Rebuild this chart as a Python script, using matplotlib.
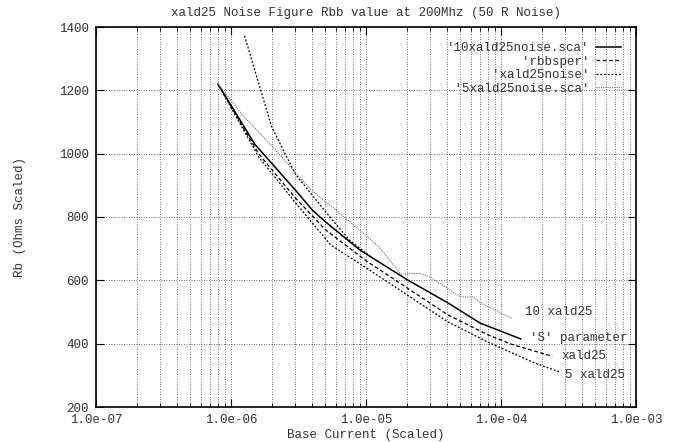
import matplotlib
matplotlib.use("Agg")
import matplotlib.pyplot as plt
from matplotlib.ticker import FixedLocator, LogLocator, NullFormatter

plt.rcParams['font.family'] = ['Liberation Mono', 'DejaVu Sans Mono']
plt.rcParams['font.size'] = 9
plt.rcParams['text.color'] = '0.2'
plt.rcParams['xtick.labelcolor'] = '0.2'
plt.rcParams['ytick.labelcolor'] = '0.2'
plt.rcParams['axes.labelcolor'] = '0.2'

# --- data ---
# '10xald25noise.sca'  (solid, labelled 'S' parameter)
sca10_x = [8e-7, 1.5e-6, 3e-6, 4e-6, 5e-6, 9e-6, 2e-5, 4e-5, 7e-5, 1.4e-4]
sca10_y = [1220, 1030, 885, 822, 785, 696, 603, 530, 465, 415]

# 'rbbsper'  (dashed, labelled xald25)
rbb_x = [8e-7, 1.6e-6, 3e-6, 5e-6, 1e-5, 2e-5, 4e-5, 8e-5, 1.2e-4, 2.4e-4]
rbb_y = [1220, 1000, 860, 760, 662, 577, 492, 428, 398, 360]

# 'xald25noise'  (dotted, labelled 5 xald25)
noise_x = [8e-7, 1.6e-6, 3e-6, 5.5e-6, 1e-5, 2e-5, 4e-5, 8e-5, 1.8e-4, 2.7e-4]
noise_y = [1220, 990, 845, 711, 640, 555, 470, 405, 338, 311]

# second dotted segment coming in from the top
steep_x = [1.26e-6, 2e-6, 3e-6, 5.5e-6, 7.5e-6, 1.1e-5]
steep_y = [1372, 1085, 935, 796, 728, 672]

# '5xald25noise.sca'  (fine grey dots, labelled 10 xald25)
sca5_x = [8e-7, 1.2e-6, 2e-6, 3e-6, 4e-6, 6e-6, 1.25e-5, 1.8e-5, 2.5e-5, 3e-5,
          5e-5, 6.2e-5, 7.2e-5, 1.2e-4]
sca5_y = [1220, 1125, 1025, 940, 882, 822, 706, 620, 622, 610,
          548, 548, 527, 480]

x_ticks = [1e-7, 1e-6, 1e-5, 1e-4, 1e-3]
x_tick_labels = ['1.0e-07', '1.0e-06', '1.0e-05', '1.0e-04', '1.0e-03']
y_ticks = [200, 400, 600, 800, 1000, 1200, 1400]

end_labels = ['10 xald25', "'S' parameter", 'xald25', '5 xald25']
end_label_x = [1.51e-4, 1.64e-4, 2.78e-4, 2.98e-4]
end_label_y = [500, 418, 361, 301]

fig = plt.figure(figsize=(6.76, 4.42), dpi=100)
ax = fig.add_axes([96 / 676, 35 / 442, 540 / 676, 380 / 442])

ax.plot(sca10_x, sca10_y, color='black', lw=1.1, label="'10xald25noise.sca'")
ax.plot(rbb_x, rbb_y, color='black', lw=0.9, ls=(0, (3, 2)), label="'rbbsper'")
ax.plot(noise_x, noise_y, color='black', lw=0.9, ls=(0, (1.5, 1.5)),
        label="'xald25noise'")
ax.plot(steep_x, steep_y, color='black', lw=0.9, ls=(0, (1.5, 1.5)))
ax.plot(sca5_x, sca5_y, color='0.45', lw=0.8, ls=(0, (1, 1)),
        label="'5xald25noise.sca'")

for txt, lx, ly in zip(end_labels, end_label_x, end_label_y):
    ax.text(lx, ly, txt, ha='left', va='center', fontsize=9)

ax.set_xscale('log')
ax.set_xlim(1e-7, 1e-3)
ax.set_ylim(200, 1400)
ax.xaxis.set_major_locator(FixedLocator(x_ticks))
ax.set_xticklabels(x_tick_labels)
ax.xaxis.set_minor_locator(LogLocator(base=10, subs=range(2, 10)))
ax.xaxis.set_minor_formatter(NullFormatter())
ax.set_yticks(y_ticks)

ax.tick_params(which='both', direction='in', top=True, right=True, labelsize=9)
ax.tick_params(which='major', length=5.5, width=0.8, pad=5)
ax.tick_params(which='minor', length=3, width=0.6)

grid_style = dict(color='0.25', lw=0.6, ls=(0, (1, 2)))
ax.grid(True, which='both', axis='x', **grid_style)
ax.grid(True, which='major', axis='y', **grid_style)

for s in ax.spines.values():
    s.set_linewidth(1.2)

ax.set_title('xald25 Noise Figure Rbb value at 200Mhz (50 R Noise)', fontsize=9, pad=8)
ax.set_xlabel('Base Current (Scaled)', fontsize=9, labelpad=2)
ax.set_ylabel('Rb (Ohms Scaled)', fontsize=9, labelpad=24)

# pad the names so the monospace legend text lines up on the right
handles, labels = ax.get_legend_handles_labels()
w = max(len(l) for l in labels)
labels = [l.rjust(w) for l in labels]
ax.legend(handles, labels, loc='upper right', frameon=False, markerfirst=False,
          handlelength=2.0, handletextpad=0.5, labelspacing=0.12,
          borderaxespad=0.8, prop={'family': 'Liberation Mono', 'size': 9})

fig.savefig('out.png', dpi=100)
